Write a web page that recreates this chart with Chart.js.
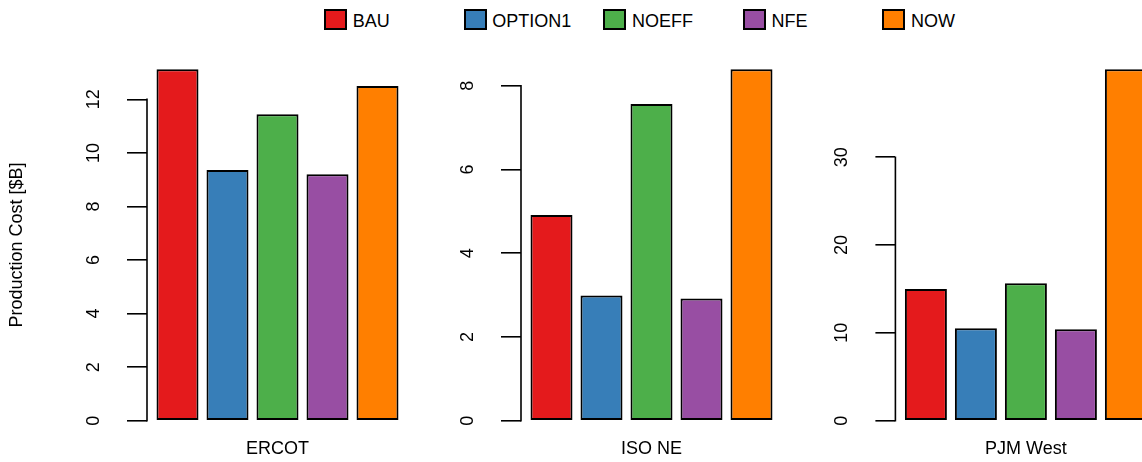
<!DOCTYPE html>
<html>
<head>
<meta charset="utf-8">
<title>Production Cost by Region</title>
<script src="https://cdn.jsdelivr.net/npm/chart.js@4.4.1/dist/chart.umd.min.js"></script>
<style>
  html, body { margin: 0; padding: 0; background: #fff; }
  body {
    width: 1142px; height: 462px; overflow: hidden; position: relative;
    font-family: "Liberation Sans", Arial, Helvetica, sans-serif;
  }
  canvas { position: absolute; top: 0; }
  .key {
    position: absolute; top: 9px; width: 23px; height: 20.5px;
    box-sizing: border-box; border: 2px solid #000;
  }
  .key-label {
    position: absolute; top: 10.5px; line-height: 20px; font-size: 18px;
    color: #000; white-space: nowrap;
  }
</style>
</head>
<body>
<div id="legend"></div>
<canvas id="panel0" width="420" height="462" style="left:0px"></canvas>
<canvas id="panel1" width="410" height="462" style="left:380px"></canvas>
<canvas id="panel2" width="410" height="462" style="left:760px"></canvas>
<script>
// Scenarios and their Set1 colours
const scenarios = ['BAU', 'OPTION1', 'NOEFF', 'NFE', 'NOW'];
const scenarioColors = ['#E41A1C', '#377EB8', '#4DAF4A', '#984EA3', '#FF7F00'];

// Regions (one panel each)
const regions = ['ERCOT', 'ISO NE', 'PJM West'];

// Production cost per scenario, $B
const ercotCost   = [13.12, 9.36, 11.44, 9.20, 12.50];
const isoNeCost   = [4.91, 2.99, 7.56, 2.92, 8.39];
const pjmWestCost = [15.0, 10.52, 15.65, 10.41, 40.0];

// Y-axis tick values per panel
const ercotTicks   = [0, 2, 4, 6, 8, 10, 12];
const isoNeTicks   = [0, 2, 4, 6, 8];
const pjmWestTicks = [0, 10, 20, 30];

const yTitle = 'Production Cost [$B]';

// ---- layout ----
const FONT_FAMILY = '"Liberation Sans", Arial, Helvetica, sans-serif';
const FONT_SIZE = 18;
const AXIS_W = 1.6;
const BAR_BORDER_W = 2;
const PLOT_W = 261.0;        // width of each plotting region
const PLOT_TOP = 55.3;
const PLOT_BOTTOM = 434.75;
const TICK_LEN = 20;
const LABEL_OFFSET = 53;     // axis line to centre of rotated tick labels

const panels = [
  { canvas: 'panel0', region: regions[0], values: ercotCost,   ticks: ercotTicks,   left: 0,   width: 420, axisX: 147.0, showTitle: true },
  { canvas: 'panel1', region: regions[1], values: isoNeCost,   ticks: isoNeTicks,   left: 380, width: 410, axisX: 521.0, showTitle: false },
  { canvas: 'panel2', region: regions[2], values: pjmWestCost, ticks: pjmWestTicks, left: 760, width: 410, axisX: 895.4, showTitle: false }
];

// Legend row across the top
(function buildLegend() {
  const host = document.getElementById('legend');
  scenarios.forEach((name, i) => {
    const x = 324 + i * 139.6;
    const box = document.createElement('div');
    box.className = 'key';
    box.style.left = x + 'px';
    box.style.background = scenarioColors[i];
    host.appendChild(box);
    const lab = document.createElement('div');
    lab.className = 'key-label';
    lab.style.left = (x + 28.7) + 'px';
    lab.textContent = name;
    host.appendChild(lab);
  });
})();

// Measure the widest tick label so rotated labels sit at a fixed distance
const measureCtx = document.createElement('canvas').getContext('2d');
measureCtx.font = FONT_SIZE + 'px ' + FONT_FAMILY;
function widestLabel(ticks) {
  return Math.max(...ticks.map(v => measureCtx.measureText(String(v)).width));
}

// Axis line running from the first to the last tick only
const axisLinePlugin = {
  id: 'axisLine',
  afterDraw(chart) {
    const ys = chart.scales.y;
    const t = ys.ticks;
    const x = chart.chartArea.left;
    const ctx = chart.ctx;
    ctx.save();
    ctx.strokeStyle = '#000';
    ctx.lineWidth = AXIS_W;
    ctx.lineCap = 'square';
    ctx.beginPath();
    ctx.moveTo(x, ys.getPixelForValue(t[0].value));
    ctx.lineTo(x, ys.getPixelForValue(t[t.length - 1].value));
    ctx.stroke();
    ctx.restore();
  }
};

panels.forEach(p => {
  const maxVal = Math.max(...p.values);
  const font = { family: FONT_FAMILY, size: FONT_SIZE };
  const tickPad = LABEL_OFFSET - TICK_LEN - widestLabel(p.ticks) / 2;

  new Chart(document.getElementById(p.canvas), {
    type: 'bar',
    data: {
      labels: [p.region],
      datasets: scenarios.map((s, i) => ({
        label: s,
        data: [p.values[i]],
        backgroundColor: scenarioColors[i],
        borderColor: '#000',
        borderWidth: BAR_BORDER_W,
        borderSkipped: false
      }))
    },
    options: {
      responsive: false,
      animation: false,
      devicePixelRatio: 1,
      events: [],
      layout: {
        padding: { left: 0, top: PLOT_TOP, bottom: 0, right: p.left + p.width - (p.axisX + PLOT_W) }
      },
      datasets: { bar: { categoryPercentage: 250 / PLOT_W, barPercentage: 0.84 } },
      plugins: { legend: { display: false }, tooltip: { enabled: false } },
      scales: {
        x: {
          grid: { display: false, drawTicks: false },
          border: { display: false },
          ticks: { color: '#000', font, padding: 3.5, maxRotation: 0, autoSkip: false },
          afterFit(s) { s.height = 462 - PLOT_BOTTOM; s.paddingLeft = 0; s.paddingRight = 0; }
        },
        y: {
          min: -0.04 * maxVal,
          max: 1.04 * maxVal,
          afterBuildTicks(s) { s.ticks = p.ticks.map(v => ({ value: v })); },
          grid: { drawOnChartArea: false, drawTicks: true, tickLength: TICK_LEN, lineWidth: AXIS_W, color: '#000' },
          border: { display: false },
          ticks: {
            color: '#000', font, padding: tickPad,
            minRotation: 90, maxRotation: 90, crossAlign: 'center',
            autoSkip: false, callback: v => String(v)
          },
          title: {
            display: p.showTitle, text: yTitle, color: '#000', font,
            padding: { top: 6.7, bottom: 0 }
          },
          afterFit(s) { s.width = p.axisX - p.left; s.paddingTop = 0; s.paddingBottom = 0; }
        }
      }
    },
    plugins: [axisLinePlugin]
  });
});
</script>
</body>
</html>
